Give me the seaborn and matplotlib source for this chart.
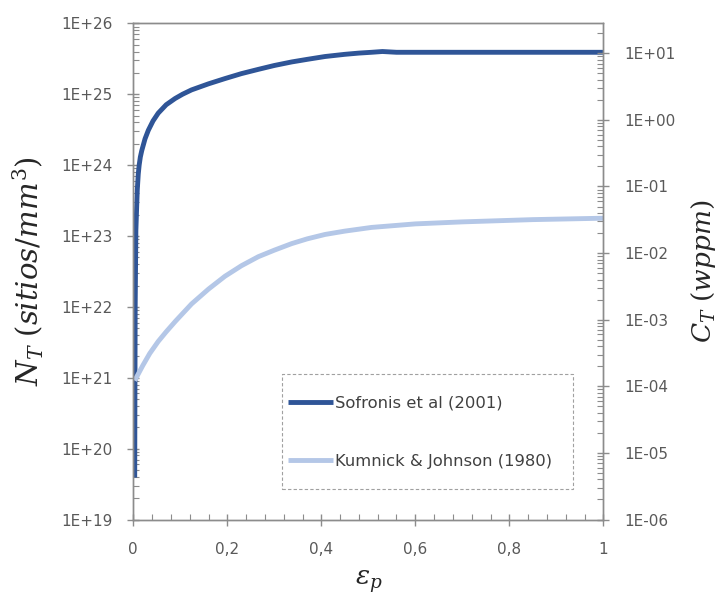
import numpy as np
import pandas as pd
import matplotlib
matplotlib.use("Agg")
import matplotlib.pyplot as plt
import matplotlib.ticker as mticker
from matplotlib.patches import Rectangle
import seaborn as sns

# ---- data ----
sofronis_eps = [0.003, 0.004, 0.0055, 0.0072, 0.0085, 0.0106, 0.0125, 0.015, 0.018, 0.025,
                0.032, 0.042, 0.053, 0.07, 0.089, 0.105, 0.124, 0.16, 0.195, 0.23,
                0.266, 0.3, 0.337, 0.37, 0.408, 0.45, 0.48, 0.507, 0.53, 0.56,
                0.7, 0.85, 1.0]
sofronis_nt = [3.9e19, 1.0e22, 1.2e23, 2.6e23, 4.5e23, 7.5e23, 1.0e24, 1.3e24, 1.6e24, 2.35e24,
               3.1e24, 4.2e24, 5.4e24, 7.1e24, 8.7e24, 1.0e25, 1.15e25, 1.4e25, 1.66e25, 1.95e25,
               2.24e25, 2.54e25, 2.85e25, 3.1e25, 3.4e25, 3.65e25, 3.8e25, 3.9e25, 4.0e25, 3.9e25,
               3.9e25, 3.9e25, 3.9e25]

kumnick_eps = [0.003, 0.02, 0.035, 0.053, 0.07, 0.09, 0.124, 0.16, 0.195, 0.23, 0.266,
               0.3, 0.337, 0.37, 0.408, 0.45, 0.507, 0.6, 0.7, 0.85, 1.0]
kumnick_nt = [9.1e20, 1.48e21, 2.2e21, 3.25e21, 4.45e21, 6.3e21, 1.1e22, 1.78e22, 2.7e22, 3.8e22, 5.1e22,
              6.3e22, 7.8e22, 9.1e22, 1.05e23, 1.17e23, 1.32e23, 1.48e23, 1.58e23, 1.7e23, 1.78e23]

series_names = ["Sofronis et al (2001)", "Kumnick & Johnson (1980)"]
series_colors = ["#2F5597", "#B4C7E7"]
x_ticks = [0, 0.2, 0.4, 0.6, 0.8, 1.0]
x_tick_labels = ["0", "0,2", "0,4", "0,6", "0,8", "1"]

sns.set_theme(style="white")
plt.rcParams["font.family"] = ["DejaVu Sans"]
plt.rcParams["mathtext.fontset"] = "dejavuserif"

fig = plt.figure(figsize=(7.18, 6.01), dpi=100)
ax = fig.add_axes([133.3 / 718, (601 - 519.5) / 601, 470 / 718, 496.2 / 601])

df1 = pd.DataFrame({"eps": sofronis_eps, "nt": sofronis_nt, "serie": series_names[0]})
df2 = pd.DataFrame({"eps": kumnick_eps, "nt": kumnick_nt, "serie": series_names[1]})
df = pd.concat([df2, df1], ignore_index=True)

sns.lineplot(data=df, x="eps", y="nt", hue="serie", hue_order=series_names,
             palette=series_colors, linewidth=3.5, ax=ax, sort=False,
             estimator=None, legend=True)
for ln in ax.get_lines():
    ln.set_solid_joinstyle("round")
    ln.set_solid_capstyle("butt")

ax.set_yscale("log")
ax.set_xlim(0, 1)
ax.set_ylim(1e19, 1e26)

grey = "#8C8C8C"
txt = "#595959"
for sp in ax.spines.values():
    sp.set_color(grey)
    sp.set_linewidth(1.0)

def efmt(v, pos):
    if v <= 0:
        return ""
    e = int(round(np.log10(v)))
    return f"1E{e:+03d}"

ax.yaxis.set_major_locator(mticker.LogLocator(base=10, numticks=20))
ax.yaxis.set_minor_locator(mticker.LogLocator(base=10, subs=np.arange(2, 10), numticks=20))
ax.yaxis.set_major_formatter(mticker.FuncFormatter(efmt))
ax.yaxis.set_minor_formatter(mticker.NullFormatter())
ax.set_xticks(x_ticks)
ax.set_xticklabels(x_tick_labels)
ax.xaxis.set_minor_locator(mticker.MultipleLocator(0.04))

ax.tick_params(axis="both", which="major", direction="inout", length=8, width=1,
               color=grey, labelsize=11, labelcolor=txt)
ax.tick_params(axis="y", which="major", pad=11)
ax.tick_params(axis="x", which="major", pad=12)
ax.tick_params(axis="both", which="minor", direction="in", length=4, width=0.8, color=grey)
ax.tick_params(left=True, bottom=True, which="both")

ax.set_xlabel(r"$\varepsilon_p$", fontsize=19, color="#262626", labelpad=8)
ax.set_ylabel(r"$N_T\ (sitios/mm^3)$", fontsize=21, color="#262626")
ax.yaxis.set_label_coords(-0.185, 0.5)

ax2 = ax.twinx()
ax2.set_yscale("log")
ax2.set_ylim(1e-6, 10 ** 1.45)
for sp in ax2.spines.values():
    sp.set_color(grey)
    sp.set_linewidth(1.0)
ax2.yaxis.set_major_locator(mticker.LogLocator(base=10, numticks=20))
ax2.yaxis.set_minor_locator(mticker.LogLocator(base=10, subs=np.arange(2, 10), numticks=20))
ax2.yaxis.set_major_formatter(mticker.FuncFormatter(efmt))
ax2.yaxis.set_minor_formatter(mticker.NullFormatter())
ax2.tick_params(axis="y", which="major", direction="inout", length=8, width=1,
                color=grey, labelsize=11, labelcolor=txt, pad=11)
ax2.tick_params(axis="y", which="minor", direction="in", length=4, width=0.8, color=grey)
ax2.set_ylabel(r"$C_T\ (wppm)$", fontsize=19, color="#262626")
ax2.yaxis.set_label_coords(1.182, 0.5)

# legend frame (dashed box) and entries
frame = Rectangle((0.316, 0.0615), 0.6195, 0.2315, transform=ax2.transAxes,
                  facecolor="white", edgecolor="#A0A0A0", linewidth=0.8,
                  linestyle=(0, (3, 2)), zorder=4, clip_on=False)
ax2.add_patch(frame)

handles, labels = ax.get_legend_handles_labels()
ax.get_legend().remove()
leg = ax2.legend(handles, labels, loc="upper left", bbox_to_anchor=(0.329, 0.2499),
                 borderaxespad=0, borderpad=0, fontsize=11.8, frameon=False,
                 handlelength=2.75, handletextpad=0.15, labelspacing=2.63,
                 labelcolor="#404040")
leg.set_zorder(6)
for lh in leg.get_lines():
    lh.set_linewidth(3.5)

fig.savefig("out.png", dpi=100, facecolor="white")
